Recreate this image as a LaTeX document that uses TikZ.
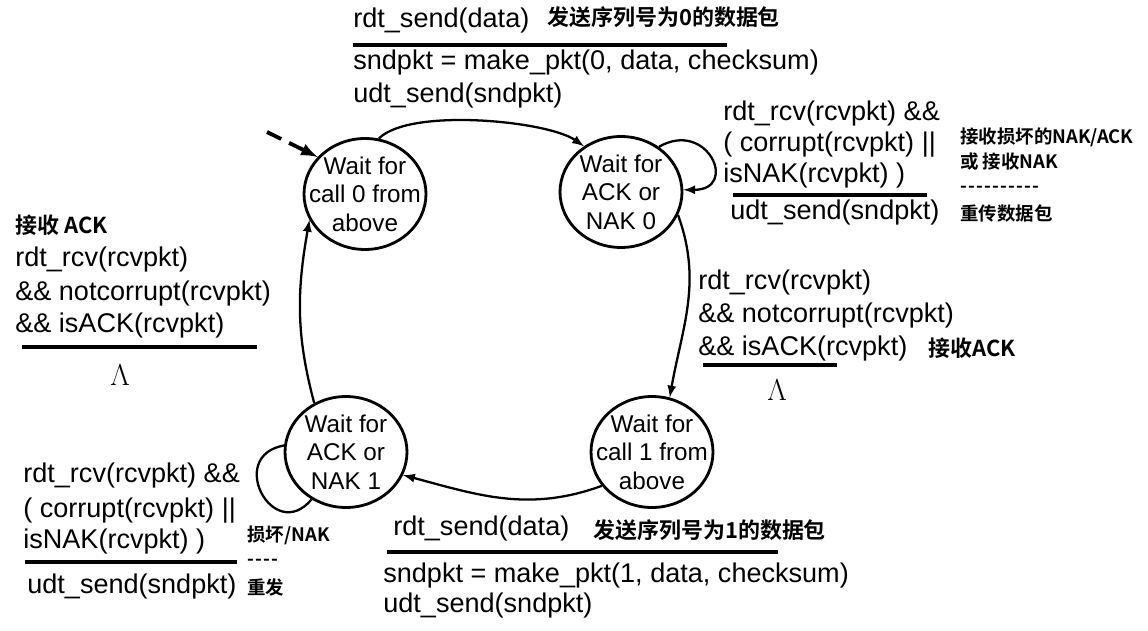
\documentclass[tikz,border=0pt]{standalone}
\usepackage{fontspec}
\setmainfont{Liberation Sans}
\newfontfamily\cjk{Noto Sans CJK SC Bold}
\usetikzlibrary{shapes.geometric}

\newcommand{\hyphens}[1]{\foreach \k in {1,...,#1}{-\kern0.7pt}}

\tikzset{
  state/.style={ellipse, draw, line width=1.6pt, minimum width=2.44cm, minimum height=2.22cm, inner sep=0pt},
  inside/.style={align=center, inner sep=0pt, font=\fontsize{13.8}{16.2}\selectfont},
  code/.style={anchor=base west, inner sep=0pt, font=\fontsize{15.4}{19}\selectfont},
  note/.style={anchor=west, inner sep=0pt, font=\cjk\fontsize{12.5}{15}\selectfont},
  smallnote/.style={anchor=west, inner sep=0pt, font=\cjk\fontsize{10.5}{14}\selectfont},
  lambda/.style={inner sep=0pt, font=\fontsize{19}{21}\selectfont},
  trans/.style={line width=1.3pt, -latex},
  rule/.style={line width=2pt},
}

\begin{document}
\begin{tikzpicture}[x=0.02cm, y=-0.02cm]
    \useasboundingbox (0,0) rectangle (1148,631);

    % Estados
    \node[state, label={[inside]center:{Wait for\\call 0 from\\above}}] (call0) at (365,194) {};
    \node[state, label={[inside]center:{Wait for\\ACK or\\NAK 0}}] (ack0) at (621,192) {};
    \node[state, label={[inside]center:{Wait for\\ACK or\\NAK 1}}] (ack1) at (346,452) {};
    \node[state, label={[inside]center:{Wait for\\call 1 from\\above}}] (call1) at (652,452) {};

    % Flecha inicial
    \coordinate (start) at (267,132);
    \draw[trans, line width=2.2pt, dash pattern=on 9pt off 5pt] (start) -- (call0.142);

    % Transiciones
    \draw[trans] (call0.76) to[out=45, in=145, looseness=0.55] (ack0.129);
    \draw[trans] (ack0.50) to[out=30, in=0, looseness=2.9] (ack0.2);
    \draw[trans] (ack0.-22) to[out=-70, in=80] (call1.72);
    \draw[trans] (call1.214) to[out=200, in=-15] (ack1.-22);
    \draw[line width=1.3pt] (ack1.174) to[out=190, in=230, looseness=2.5] (ack1.234);
    \draw[trans] (ack1.123) to[out=105, in=-100] (call0.205);

    % Etiqueta superior (call0 -> ack0)
    \node[code] (send0) at (353,28) {rdt\_send(data)};
    \node[note] (send0cn) at (547,17) {发送序列号为0的数据包};
    \draw[rule] (353,45) -- (727,45);
    \node[code] (make0) at (353,70) {sndpkt = make\_pkt(0, data, checksum)};
    \node[code] (udt0) at (353,103) {udt\_send(sndpkt)};

    % Etiqueta del lazo en ack0
    \node[code] (loop0a) at (723,121) {rdt\_rcv(rcvpkt) \&\&};
    \node[code] (loop0b) at (723,152) {( corrupt(rcvpkt) ||};
    \node[code] (loop0c) at (723,183) {isNAK(rcvpkt) )};
    \draw[rule] (733,195) -- (927,195);
    \node[code] (loop0d) at (730,220) {udt\_send(sndpkt)};
    \node[smallnote] (loop0cn1) at (960,137) {接收损坏的NAK/ACK};
    \node[smallnote] (loop0cn2) at (960,162) {或 接收NAK};
    \node[smallnote] (loop0cn3) at (960,189) {\hyphens{10}};
    \node[smallnote] (loop0cn4) at (960,213) {重传数据包};

    % Etiqueta derecha (ack0 -> call1)
    \node[code] (rcv0a) at (698,290) {rdt\_rcv(rcvpkt)};
    \node[code] (rcv0b) at (698,322) {\&\& notcorrupt(rcvpkt)};
    \node[code] (rcv0c) at (698,355) {\&\& isACK(rcvpkt)};
    \node[note] (rcv0cn) at (928,348) {接收ACK};
    \draw[rule] (703,365) -- (837,365);
    \node[lambda] (lambda0) at (777,390) {$\Lambda$};

    % Etiqueta inferior (call1 -> ack1)
    \node[code] (send1) at (393,535) {rdt\_send(data)};
    \node[note] (send1cn) at (593,530) {发送序列号为1的数据包};
    \draw[rule] (387,552) -- (778,552);
    \node[code] (make1) at (383,582) {sndpkt = make\_pkt(1, data, checksum)};
    \node[code] (udt1) at (383,612) {udt\_send(sndpkt)};

    % Etiqueta del lazo en ack1
    \node[code] (loop1a) at (23,482) {rdt\_rcv(rcvpkt) \&\&};
    \node[code] (loop1b) at (23,517) {( corrupt(rcvpkt) ||};
    \node[code] (loop1c) at (23,548) {isNAK(rcvpkt) )};
    \draw[rule] (25,562) -- (237,562);
    \node[code] (loop1d) at (27,593) {udt\_send(sndpkt)};
    \node[smallnote] (loop1cn1) at (247,535) {损坏/NAK};
    \node[smallnote] (loop1cn2) at (247,562) {\hyphens{4}};
    \node[smallnote] (loop1cn3) at (247,587) {重发};

    % Etiqueta izquierda (ack1 -> call0)
    \node[note] (rcv1cn) at (15,225) {接收 ACK};
    \node[code] (rcv1a) at (15,267) {rdt\_rcv(rcvpkt)};
    \node[code] (rcv1b) at (15,300) {\&\& notcorrupt(rcvpkt)};
    \node[code] (rcv1c) at (15,332) {\&\& isACK(rcvpkt)};
    \draw[rule] (22,347) -- (257,347);
    \node[lambda] (lambda1) at (120,375) {$\Lambda$};

\end{tikzpicture}
\end{document}
